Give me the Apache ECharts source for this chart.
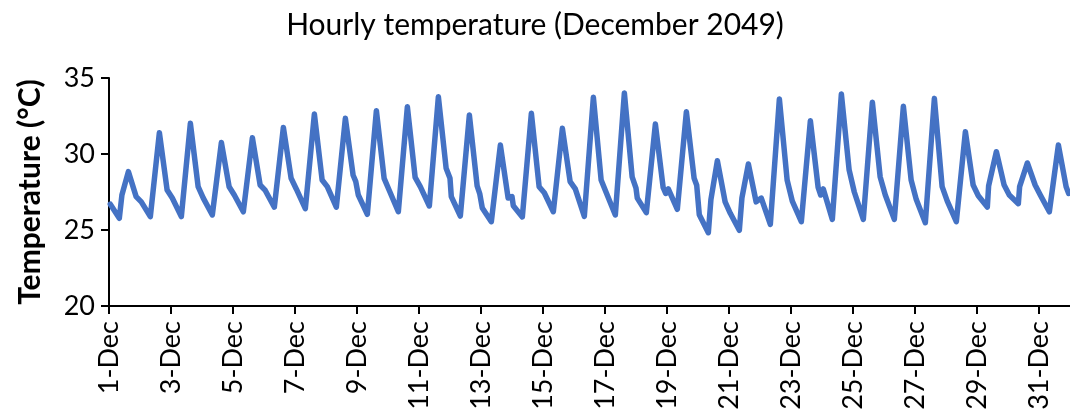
<!DOCTYPE html>
<html>
<head>
<meta charset="utf-8">
<title>Hourly temperature (December 2049)</title>
<script src="https://cdn.jsdelivr.net/npm/echarts@6/dist/echarts.min.js"></script>
<style>
  html, body { margin: 0; padding: 0; background: #fff; }
  #chart { width: 1070px; height: 420px; }
</style>
</head>
<body>
<div id="chart"></div>
<script>
// Temperature readings for December 2049 (°C), one value per day for each time slot.
const monthLabel = 'Dec';
const tickDays = [1, 3, 5, 7, 9, 11, 13, 15, 17, 19, 21, 23, 25, 27, 29, 31];
const yTicks = [20, 25, 30, 35];

// 01:00 readings
const night01 = [26.7, 26.85, 27.1, 27.1, 27.3, 27.6, 27.7, 27.85, 27.3, 27.6,
                 27.85, 27.2, 26.45, 26.6, 27.45, 27.7, 27.45, 27.1, 27.7, 26.0,
                 26.1, 27.1, 26.9, 27.7, 27.5, 27.3, 27.0, 26.9, 27.25, 27.3, 27.3];
// 08:00 readings (daily minimum)
const dawn08 = [25.77, 25.88, 25.88, 25.99, 26.2, 26.5, 26.4, 26.5, 26.03, 26.2,
                26.58, 25.92, 25.55, 25.86, 26.2, 25.9, 25.99, 26.14, 26.36, 24.82,
                24.98, 25.37, 25.55, 25.7, 25.7, 25.7, 25.48, 25.55, 26.51, 26.73, 26.2];
// 15:00 readings (daily maximum)
const peak15 = [28.84, 31.4, 32.02, 30.75, 31.07, 31.75, 32.63, 32.35, 32.85, 33.11,
                33.77, 32.57, 30.59, 32.68, 31.69, 33.73, 34.01, 31.97, 32.78, 29.56,
                29.34, 33.62, 32.19, 33.95, 33.4, 33.14, 33.66, 31.47, 30.15, 29.41, 30.59];
// 21:00 readings
const evening21 = [27.2, 27.63, 27.85, 27.85, 27.96, 28.4, 28.29, 28.6, 28.4, 28.46,
                   29.06, 27.9, 27.1, 27.85, 28.18, 28.29, 28.5, 27.8, 28.4, 26.85,
                   26.85, 28.29, 27.8, 28.95, 28.51, 28.29, 27.85, 27.96, 27.96, 27.96, 27.85];
// Additional hourly readings: [day, hour, °C]
const extraReadings = [
  [1, 10, 27.3], [8, 23, 28.2], [12, 0, 28.4], [12, 23, 27.4], [14, 0, 27.2],
  [18, 0, 27.75], [18, 23, 27.4], [19, 23, 27.95], [20, 10, 27.0], [21, 10, 27.1],
  [23, 23, 27.3], [29, 9, 27.9], [30, 9, 27.85], [31, 23, 27.4]
];

// Position on the x axis, in days since 1 December 00:00
function dayPos(day, hour) { return (day - 1) + hour / 24; }

const points = [];
for (let d = 1; d <= night01.length; d++) {
  points.push([dayPos(d, 1), night01[d - 1]]);
  points.push([dayPos(d, 8), dawn08[d - 1]]);
  points.push([dayPos(d, 15), peak15[d - 1]]);
  points.push([dayPos(d, 21), evening21[d - 1]]);
}
extraReadings.forEach(([d, h, v]) => points.push([dayPos(d, h), v]));
points.sort((a, b) => a[0] - b[0]);

const tickPositions = tickDays.map(d => dayPos(d, 0));
const FONT = 'Lato, "Noto Sans", sans-serif';
const INK = '#000';

const chart = echarts.init(document.getElementById('chart'), null, { renderer: 'canvas' });
chart.setOption({
  animation: false,
  backgroundColor: '#fff',
  title: {
    text: 'Hourly temperature (December 2049)',
    left: 'center',
    top: 5,
    textStyle: { fontFamily: FONT, fontSize: 30, fontWeight: 'normal', color: INK }
  },
  grid: {
    left: 109, right: 0, top: 78, bottom: 114,
    containLabel: false,
    outerBoundsMode: 'none'
  },
  xAxis: {
    type: 'value',
    min: 0,
    max: night01.length,
    interval: 2,
    axisLine: { show: true, onZero: false, lineStyle: { color: INK, width: 2 } },
    axisTick: { show: true, length: 8, lineStyle: { color: INK, width: 2 }, customValues: tickPositions },
    splitLine: { show: false },
    axisLabel: {
      customValues: tickPositions,
      rotate: 90,
      margin: 15,
      fontFamily: FONT,
      fontSize: 27,
      color: INK,
      formatter: v => (Math.round(v) + 1) + '-' + monthLabel
    }
  },
  yAxis: {
    type: 'value',
    min: yTicks[0],
    max: yTicks[yTicks.length - 1],
    interval: yTicks[1] - yTicks[0],
    name: 'Temperature (°C)',
    nameLocation: 'middle',
    nameRotate: 90,
    nameGap: 64,
    nameTextStyle: { fontFamily: FONT, fontSize: 30, fontWeight: 'bold', color: INK },
    axisLine: { show: true, lineStyle: { color: INK, width: 2 } },
    axisTick: { show: true, length: 8, lineStyle: { color: INK, width: 2 } },
    splitLine: { show: false },
    axisLabel: { margin: 14, fontFamily: FONT, fontSize: 27, color: INK }
  },
  series: [{
    type: 'line',
    data: points,
    showSymbol: false,
    smooth: false,
    lineStyle: { color: '#4472C4', width: 5.5, join: 'round', cap: 'round' },
    itemStyle: { color: '#4472C4' }
  }]
});
</script>
</body>
</html>
